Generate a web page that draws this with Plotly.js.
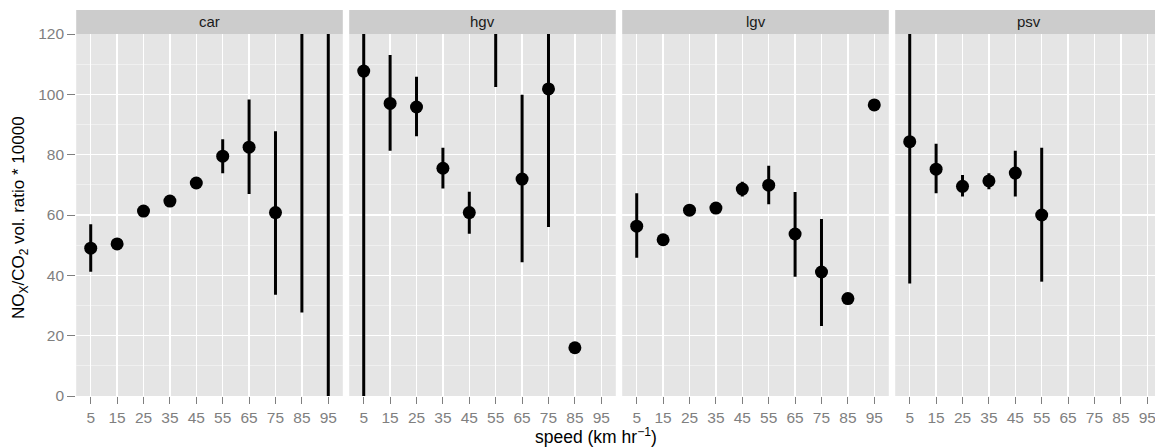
<!DOCTYPE html>
<html>
<head>
<meta charset="utf-8">
<script src="https://cdn.plot.ly/plotly-3.0.1.min.js"></script>
<style>html,body{margin:0;padding:0;background:#fff;}#chart{width:1155px;height:447px;}</style>
</head>
<body>
<div id="chart"></div>
<script>
// ---- data ----
const speeds = ['5','15','25','35','45','55','65','75','85','95'];
const panels = ['car','hgv','lgv','psv'];
const yTicks = [0, 20, 40, 60, 80, 100, 120];

const carMean = [49.0, 50.4, 61.3, 64.6, 70.6, 79.5, 82.5, 60.8, null, null];
const carLo   = [41.2, null, null, null, null, 73.8, 67.0, 33.6, 27.7, -10];
const carHi   = [56.9, null, null, null, null, 85.1, 98.3, 87.8, 160, 160];

const hgvMean = [107.7, 97.0, 95.8, 75.5, 60.8, null, 71.9, 101.8, 16.0, null];
const hgvLo   = [-10, 81.3, 86.1, 68.8, 53.8, 102.4, 44.3, 56.0, null, null];
const hgvHi   = [160, 113.0, 105.8, 82.3, 67.7, 160, 99.9, 160, null, null];

const lgvMean = [56.3, 51.8, 61.6, 62.3, 68.6, 69.9, 53.7, 41.1, 32.3, 96.5];
const lgvLo   = [45.8, null, null, null, 66.1, 63.6, 39.5, 23.2, null, null];
const lgvHi   = [67.2, null, null, null, 71.0, 76.3, 67.6, 58.7, null, null];

const psvMean = [84.3, 75.2, 69.5, 71.3, 73.9, 60.0, null, null, null, null];
const psvLo   = [37.3, 67.2, 66.1, 68.5, 66.1, 37.9, null, null, null, null];
const psvHi   = [160, 83.6, 73.3, 73.8, 81.3, 82.3, null, null, null, null];

const means = [carMean, hgvMean, lgvMean, psvMean];
const los = [carLo, hgvLo, lgvLo, psvLo];
const his = [carHi, hgvHi, lgvHi, psvHi];

// ---- geometry (pixels) ----
const W = 1155, H = 447;
const panelLeft = [76.2, 349.2, 622.2, 895.2];
const panelW = 266.6;
const plotTop = 34, plotBot = 396, stripTop = 10;
const FONT = 'Liberation Sans, Arial, Helvetica, sans-serif';

const px = v => v / W;
const py = v => 1 - v / H;

const traces = [];
const layout = {
  width: W, height: H,
  margin: {l: 0, r: 0, t: 0, b: 0, pad: 0},
  paper_bgcolor: '#ffffff',
  plot_bgcolor: '#E5E5E5',
  showlegend: false,
  hovermode: false,
  font: {family: FONT, color: '#7F7F7F', size: 15.5},
  shapes: [],
  annotations: []
};

panels.forEach((name, p) => {
  const sfx = p === 0 ? '' : String(p + 1);
  const xa = 'x' + sfx, ya = 'y' + sfx;
  const segX = [], segY = [];
  los[p].forEach((lo, i) => {
    if (lo !== null) {
      segX.push(speeds[i], speeds[i], null);
      segY.push(lo, his[p][i], null);
    }
  });
  traces.push({
    type: 'scatter', mode: 'lines', x: segX, y: segY,
    xaxis: xa, yaxis: ya, connectgaps: false,
    line: {color: '#000000', width: 3}
  });
  traces.push({
    type: 'scatter', mode: 'markers', x: speeds, y: means[p],
    xaxis: xa, yaxis: ya, cliponaxis: true,
    marker: {color: '#000000', size: 13, line: {width: 0}}
  });

  const left = panelLeft[p];
  const right = Math.min(left + panelW, W);
  const step = (panelW) / 10.1;
  const rEnd = -0.55 + (right - left) / step;

  layout['xaxis' + sfx] = {
    domain: [px(left), px(right)],
    anchor: ya,
    type: 'category',
    categoryorder: 'array',
    categoryarray: speeds,
    range: [-0.55, rEnd],
    showgrid: true, gridcolor: '#FFFFFF', gridwidth: 1.3,
    zeroline: false, showline: false,
    ticks: 'outside', ticklen: 7, tickwidth: 1, tickcolor: '#7F7F7F',
    tickfont: {family: FONT, size: 15.5, color: '#7F7F7F'},
    fixedrange: true
  };
  layout['yaxis' + sfx] = {
    domain: [py(plotBot), py(plotTop)],
    anchor: xa,
    range: [0, 120],
    tickvals: yTicks,
    ticktext: yTicks.map(String),
    showgrid: true, gridcolor: '#FFFFFF', gridwidth: 1.3,
    minor: {tick0: 10, dtick: 20, showgrid: true, gridcolor: '#F2F2F2', gridwidth: 0.8, ticks: ''},
    zeroline: false, showline: false,
    ticks: p === 0 ? 'outside' : '',
    ticklen: 8, tickwidth: 1, tickcolor: '#7F7F7F',
    showticklabels: p === 0,
    tickfont: {family: FONT, size: 15.5, color: '#7F7F7F'},
    fixedrange: true
  };

  layout.shapes.push({
    type: 'rect', xref: 'paper', yref: 'paper',
    x0: px(left), x1: px(right), y0: py(plotTop), y1: py(stripTop),
    fillcolor: '#CCCCCC', line: {width: 0}, layer: 'below'
  });
  layout.annotations.push({
    xref: 'paper', yref: 'paper',
    x: px(left + panelW / 2), y: py((plotTop + stripTop) / 2),
    xanchor: 'center', yanchor: 'middle', showarrow: false,
    text: name, font: {family: FONT, size: 15, color: '#1A1A1A'}
  });
});

layout.annotations.push({
  xref: 'paper', yref: 'paper',
  x: px(596), y: py(436), xanchor: 'center', yanchor: 'middle', showarrow: false,
  text: 'speed (km hr<sup>−1</sup>)',
  font: {family: FONT, size: 17.5, color: '#000000'}
});
layout.annotations.push({
  xref: 'paper', yref: 'paper',
  x: px(20), y: py(218), xanchor: 'center', yanchor: 'middle', showarrow: false,
  textangle: -90,
  text: 'NO<sub>X</sub>/CO<sub>2</sub> vol. ratio * 10000',
  font: {family: FONT, size: 17, color: '#000000'}
});

Plotly.newPlot('chart', traces, layout, {staticPlot: true, displayModeBar: false});
</script>
</body>
</html>
